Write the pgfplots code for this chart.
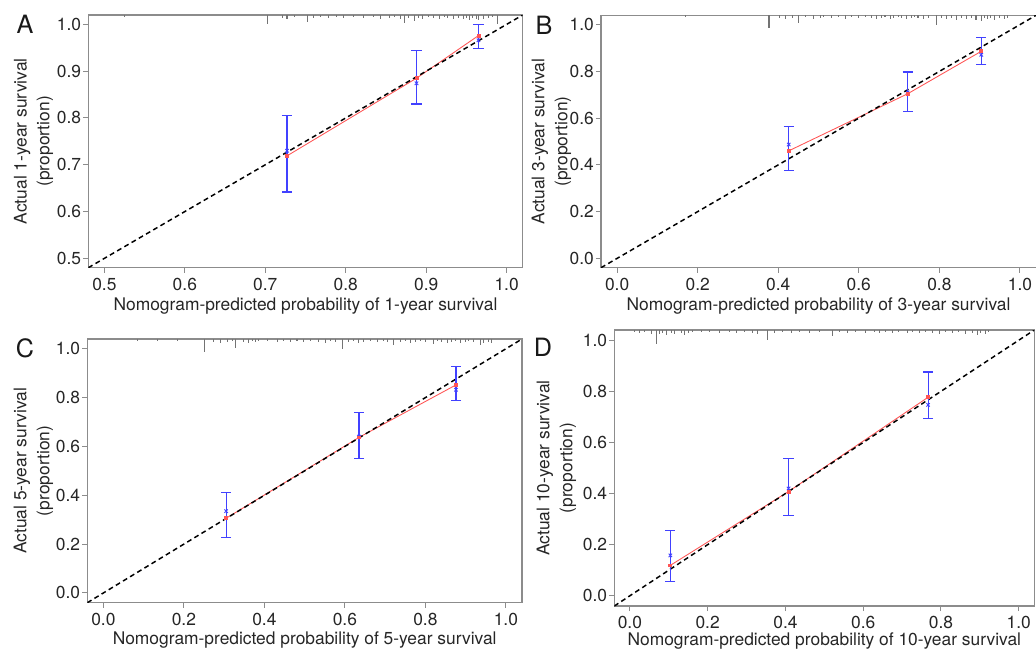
\documentclass[border=0pt]{standalone}
\usepackage{fontspec}
\setmainfont{TeX Gyre Heros}
\usepackage{pgfplots}
\usepackage{pgfplotstable}
\pgfplotsset{compat=1.18}

\definecolor{framegray}{RGB}{140,140,140}
\definecolor{rugcol}{RGB}{115,115,115}
\definecolor{calred}{RGB}{255,85,85}
\definecolor{calblue}{RGB}{65,65,255}

% calibration points: x = predicted, pred = red fit, obs = blue KM estimate, ep/em = CI half widths
\pgfplotstableread{
x     pred   obs    ep     em
0.727 0.719  0.730  0.075  0.088
0.888 0.885  0.874  0.070  0.044
0.965 0.976  0.966  0.034  0.018
}\calA
\pgfplotstableread{
x     pred   obs    ep     em
0.426 0.460  0.487  0.077  0.112
0.721 0.704  0.710  0.087  0.083
0.904 0.886  0.871  0.075  0.042
}\calB
\pgfplotstableread{
x     pred   obs    ep     em
0.305 0.306  0.335  0.076  0.107
0.635 0.637  0.640  0.098  0.088
0.876 0.852  0.832  0.094  0.045
}\calC
\pgfplotstableread{
x     pred   obs    ep     em
0.104 0.119  0.158  0.096  0.103
0.408 0.408  0.420  0.116  0.107
0.767 0.777  0.747  0.129  0.053
}\calD

% spike histograms of predicted risk along the top edge
\pgfplotstableread{
x      y     h
0.525  1.02  .0043
0.703  1.02  .0193
0.722  1.02  .0064
0.727  1.02  .0086
0.736  1.02  .0043
0.752  1.02  .0150
0.760  1.02  .0064
0.769  1.02  .0043
0.779  1.02  .0064
0.789  1.02  .0043
0.797  1.02  .0064
0.810  1.02  .0043
0.822  1.02  .0064
0.835  1.02  .0043
0.843  1.02  .0086
0.855  1.02  .0064
0.861  1.02  .0043
0.868  1.02  .0086
0.873  1.02  .0171
0.878  1.02  .0064
0.885  1.02  .0128
0.890  1.02  .0064
0.896  1.02  .0086
0.903  1.02  .0043
0.909  1.02  .0064
0.917  1.02  .0086
0.923  1.02  .0043
0.927  1.02  .0064
0.934  1.02  .0086
0.940  1.02  .0064
0.946  1.02  .0086
0.950  1.02  .0064
0.954  1.02  .0107
0.958  1.02  .0064
0.9625 1.02  .0086
0.965  1.02  .0107
0.971  1.02  .0086
0.977  1.02  .0064
0.983  1.02  .0043
0.989  1.02  .0193
}\rugA
\pgfplotstableread{
x      y     h
0.169  1.04  .0086
0.377  1.04  .0556
0.402  1.04  .0128
0.418  1.04  .0171
0.436  1.04  .0128
0.451  1.04  .0342
0.468  1.04  .0086
0.488  1.04  .0171
0.505  1.04  .0128
0.513  1.04  .0086
0.533  1.04  .0128
0.550  1.04  .0086
0.566  1.04  .0171
0.583  1.04  .0086
0.599  1.04  .0128
0.616  1.04  .0086
0.632  1.04  .0128
0.644  1.04  .0171
0.657  1.04  .0128
0.665  1.04  .0086
0.678  1.04  .0171
0.686  1.04  .0128
0.698  1.04  .0086
0.706  1.04  .0128
0.719  1.04  .0171
0.731  1.04  .0128
0.739  1.04  .0086
0.747  1.04  .0128
0.760  1.04  .0171
0.772  1.04  .0128
0.793  1.04  .0428
0.805  1.04  .0128
0.817  1.04  .0171
0.830  1.04  .0128
0.842  1.04  .0214
0.854  1.04  .0128
0.867  1.04  .0171
0.879  1.04  .0128
0.891  1.04  .0214
0.904  1.04  .0257
0.912  1.04  .0128
0.920  1.04  .0171
0.928  1.04  .0128
0.938  1.04  .0214
0.949  1.04  .0128
0.961  1.04  .0171
0.970  1.04  .0128
}\rugB
\pgfplotstableread{
x      y     h
0.084  1.04  .0082
0.134  1.04  .0082
0.184  1.04  .0082
0.250  1.04  .0533
0.274  1.04  .0123
0.291  1.04  .0164
0.308  1.04  .0123
0.320  1.04  .0082
0.328  1.04  .0369
0.349  1.04  .0123
0.361  1.04  .0164
0.370  1.04  .0082
0.378  1.04  .0123
0.386  1.04  .0082
0.407  1.04  .0082
0.432  1.04  .0123
0.448  1.04  .0082
0.465  1.04  .0123
0.481  1.04  .0082
0.498  1.04  .0123
0.514  1.04  .0082
0.535  1.04  .0123
0.552  1.04  .0164
0.564  1.04  .0082
0.576  1.04  .0123
0.593  1.04  .0410
0.609  1.04  .0123
0.622  1.04  .0082
0.634  1.04  .0164
0.647  1.04  .0123
0.663  1.04  .0082
0.680  1.04  .0123
0.696  1.04  .0082
0.705  1.04  .0123
0.721  1.04  .0246
0.738  1.04  .0123
0.750  1.04  .0082
0.763  1.04  .0164
0.775  1.04  .0123
0.787  1.04  .0082
0.800  1.04  .0123
0.820  1.04  .0205
0.829  1.04  .0082
0.841  1.04  .0123
0.854  1.04  .0164
0.866  1.04  .0123
0.874  1.04  .0082
0.887  1.04  .0164
0.899  1.04  .0123
0.907  1.04  .0082
0.920  1.04  .0123
0.936  1.04  .0246
0.944  1.04  .0164
0.957  1.04  .0123
0.965  1.04  .0164
}\rugC
\pgfplotstableread{
x      y     h
0.013  1.04  .0078
0.026  1.04  .0117
0.038  1.04  .0078
0.056  1.04  .0156
0.068  1.04  .0547
0.077  1.04  .0156
0.085  1.04  .0117
0.094  1.04  .0196
0.107  1.04  .0117
0.115  1.04  .0156
0.132  1.04  .0117
0.141  1.04  .0196
0.150  1.04  .0117
0.162  1.04  .0078
0.184  1.04  .0078
0.205  1.04  .0078
0.231  1.04  .0117
0.256  1.04  .0078
0.274  1.04  .0117
0.295  1.04  .0078
0.316  1.04  .0117
0.329  1.04  .0156
0.355  1.04  .0391
0.372  1.04  .0117
0.393  1.04  .0078
0.415  1.04  .0117
0.436  1.04  .0078
0.462  1.04  .0117
0.487  1.04  .0078
0.521  1.04  .0235
0.538  1.04  .0078
0.560  1.04  .0117
0.581  1.04  .0078
0.607  1.04  .0117
0.628  1.04  .0078
0.641  1.04  .0117
0.658  1.04  .0078
0.675  1.04  .0117
0.692  1.04  .0078
0.714  1.04  .0117
0.726  1.04  .0078
0.744  1.04  .0117
0.761  1.04  .0078
0.779  1.04  .0117
0.795  1.04  .0156
0.812  1.04  .0078
0.829  1.04  .0117
0.846  1.04  .0078
0.863  1.04  .0156
0.880  1.04  .0117
0.893  1.04  .0196
0.902  1.04  .0117
0.915  1.04  .0156
0.923  1.04  .0078
}\rugD

\pgfplotsset{
  calib/.style={
    scale only axis,
    axis line style={framegray, line width=0.6pt},
    tick align=outside, xtick pos=bottom, ytick pos=left,
    major tick length=2.9pt,
    every tick/.style={framegray, line width=0.6pt},
    tick label style={font=\fontsize{10}{12}\selectfont, text=black!85},
    yticklabel style={xshift=2.3pt},
    xticklabel style={yshift=0.6pt},
    label style={font=\fontsize{10}{13.2}\selectfont, text=black!85},
    ylabel style={align=center, anchor=center},
    xlabel style={at={(axis description cs:0.5,0)}, anchor=center},
    /pgf/number format/fixed,
    /pgf/number format/fixed zerofill,
    /pgf/number format/precision=1,
    /pgf/number format/assume math mode=true,
  },
  full/.style={
    xmin=-0.04, xmax=1.04, ymin=-0.04, ymax=1.04,
    xtick={0,0.2,...,1.0}, ytick={0,0.2,...,1.0},
  },
  rug/.style={draw=none, mark=none, forget plot,
    error bars/.cd, y dir=minus, y explicit, error mark=none,
    error bar style={draw=rugcol, line width=0.6pt}},
  fit/.style={calred, line width=0.5pt, mark=square*, mark size=0.8pt},
  diag/.style={black, line width=0.85pt, dash pattern=on 2.8pt off 2pt},
  ci/.style={draw=none, mark=none, forget plot,
    error bars/.cd, y dir=both, y explicit, error mark=|,
    error mark options={draw=calblue, mark size=2.9pt, line width=0.7pt},
    error bar style={draw=calblue, line width=0.7pt}},
  obsmark/.style={calblue, only marks, mark=x, mark size=1.4pt,
    mark options={line width=0.5pt}},
}

\begin{document}
\begin{tikzpicture}
\useasboundingbox (0,0) rectangle (595.7pt,-374.9pt);

% A
\begin{axis}[calib, at={(50.77pt,-153.93pt)}, anchor=south west,
  width=249.78pt, height=145.30pt,
  xmin=0.48, xmax=1.02, ymin=0.48, ymax=1.02,
  xtick={0.5,0.6,...,1.0}, ytick={0.5,0.6,...,1.0},
  xlabel={Nomogram-predicted probability of 1-year survival},
  ylabel={Actual 1-year survival\\(proportion)},
  ylabel style={at={(axis description cs:-0.126,0.5)}},
  xlabel style={yshift=-22pt}]
\addplot[rug] table[x=x, y=y, y error minus=h] {\rugA};
\addplot[fit] table[x=x, y=pred] {\calA};
\addplot[diag] coordinates {(0.48,0.48) (1.02,1.02)};
\addplot[ci] table[x=x, y=obs, y error plus=ep, y error minus=em] {\calA};
\addplot[obsmark] table[x=x, y=obs] {\calA};
\addplot[calred, only marks, mark=square*, mark size=0.8pt] table[x=x, y=pred] {\calA};
\end{axis}

% B
\begin{axis}[calib, full, at={(345.58pt,-153.93pt)}, anchor=south west,
  width=250.13pt, height=145.13pt,
  xlabel={Nomogram-predicted probability of 3-year survival},
  ylabel={Actual 3-year survival\\(proportion)},
  ylabel style={at={(axis description cs:-0.114,0.5)}},
  xlabel style={yshift=-22pt}]
\addplot[rug] table[x=x, y=y, y error minus=h] {\rugB};
\addplot[fit] table[x=x, y=pred] {\calB};
\addplot[diag] coordinates {(-0.04,-0.04) (1.04,1.04)};
\addplot[ci] table[x=x, y=obs, y error plus=ep, y error minus=em] {\calB};
\addplot[obsmark] table[x=x, y=obs] {\calB};
\addplot[calred, only marks, mark=square*, mark size=0.8pt] table[x=x, y=pred] {\calB};
\end{axis}

% C
\begin{axis}[calib, full, at={(50.20pt,-346.55pt)}, anchor=south west,
  width=249.95pt, height=151.63pt,
  xlabel={Nomogram-predicted probability of 5-year survival},
  ylabel={Actual 5-year survival\\(proportion)},
  ylabel style={at={(axis description cs:-0.124,0.5)}},
  xlabel style={yshift=-21.5pt}]
\addplot[rug] table[x=x, y=y, y error minus=h] {\rugC};
\addplot[fit] table[x=x, y=pred] {\calC};
\addplot[diag] coordinates {(-0.04,-0.04) (1.04,1.04)};
\addplot[ci] table[x=x, y=obs, y error plus=ep, y error minus=em] {\calC};
\addplot[obsmark] table[x=x, y=obs] {\calC};
\addplot[calred, only marks, mark=square*, mark size=0.8pt] table[x=x, y=pred] {\calC};
\end{axis}

% D
\begin{axis}[calib, full, at={(353.22pt,-348.45pt)}, anchor=south west,
  width=241.5pt, height=158.7pt,
  xlabel={Nomogram-predicted probability of 10-year survival},
  ylabel={Actual 10-year survival\\(proportion)},
  ylabel style={at={(axis description cs:-0.1376,0.5)}},
  xlabel style={yshift=-20pt}]
\addplot[rug] table[x=x, y=y, y error minus=h] {\rugD};
\addplot[fit] table[x=x, y=pred] {\calD};
\addplot[diag] coordinates {(-0.04,-0.04) (1.04,1.04)};
\addplot[ci] table[x=x, y=obs, y error plus=ep, y error minus=em] {\calD};
\addplot[obsmark] table[x=x, y=obs] {\calD};
\addplot[calred, only marks, mark=square*, mark size=0.8pt] table[x=x, y=pred] {\calD};
\end{axis}

% panel letters
\node[font=\fontsize{14.5}{15}\selectfont, text=black!90] at (14.4pt,-13.8pt) {A};
\node[font=\fontsize{14.5}{15}\selectfont, text=black!90] at (312.8pt,-14.4pt) {B};
\node[font=\fontsize{14.5}{15}\selectfont, text=black!90] at (14.4pt,-200.1pt) {C};
\node[font=\fontsize{14.5}{15}\selectfont, text=black!90] at (312.2pt,-199.5pt) {D};
\end{tikzpicture}
\end{document}
